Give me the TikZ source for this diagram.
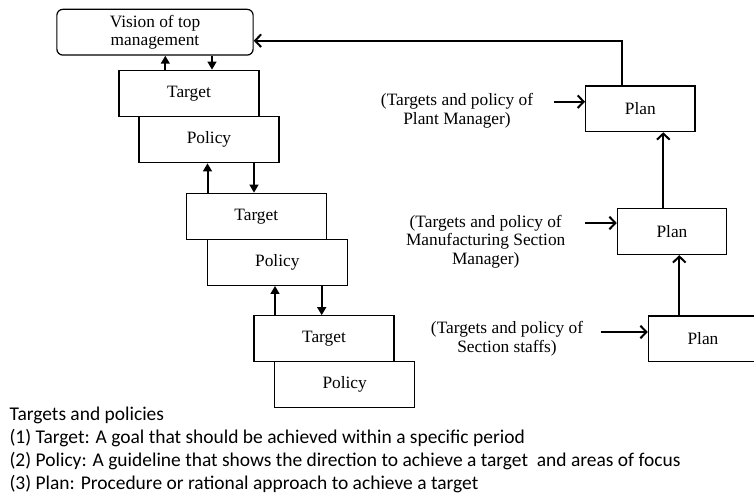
\documentclass[tikz,border=0pt]{standalone}
\usepackage{fontspec}
\setmainfont{Liberation Serif}
\newfontfamily\notefont{Carlito}
\usetikzlibrary{arrows.meta}

\begin{document}
\begin{tikzpicture}[x=0.75pt,y=-0.75pt,
  box/.style={draw, line width=0.9pt, minimum width=105pt, minimum height=34.5pt,
    inner sep=0pt, font=\fontsize{13}{14}\selectfont},
  planbox/.style={box, minimum width=82pt, minimum height=34.3pt},
  visionbox/.style={box, rounded corners=4.5pt, minimum width=147.2pt,
    minimum height=34.3pt, align=center},
  lab/.style={align=center, inner sep=0pt, font=\fontsize{13}{14}\selectfont},
  fillarrow/.style={line width=1.5pt, -{Triangle[length=6pt,width=6.5pt]}},
  barb/.style={line width=1.5pt, -{Straight Barb[length=4.5pt,width=9.5pt]}},
  note/.style={anchor=base west, inner sep=0pt, font=\notefont\fontsize{14.6}{17}\selectfont}
]
\useasboundingbox (0,0) rectangle (754,496);
\clip (0,0) rectangle (754,496);

% management hierarchy: targets and policies cascading down
\node[visionbox] (vis) at (155,32.2) {Vision of top\\management};
\node[box] (t1) at (189,93.3)   {Target};
\node[box] (p1) at (209,139.7)  {Policy};
\node[box] (t2) at (256.3,216.3) {Target};
\node[box] (p2) at (277.3,262.3) {Policy};
\node[box] (t3) at (324,338.8)  {Target};
\node[box] (p3) at (344.7,384.7) {Policy};

\draw[fillarrow] (165.3,0 |- t1.north) -- (165.3,0 |- vis.south);
\draw[fillarrow] (212,0 |- vis.south) -- (212,0 |- t1.north);
\draw[fillarrow] (207.5,0 |- t2.north) -- (207.5,0 |- p1.south);
\draw[fillarrow] (254,0 |- p1.south) -- (254,0 |- t2.north);
\draw[fillarrow] (275,0 |- t3.north) -- (275,0 |- p2.south);
\draw[fillarrow] (321.7,0 |- p2.south) -- (321.7,0 |- t3.north);

% plans at each level
\node[planbox] (plan1) at (640.3,108.8) {Plan};
\node[planbox] (plan2) at (672,231.7)   {Plan};
\node[planbox] (plan3) at (703,338.8)   {Plan};

\node[lab] (lab1) at (457,110.8) {(Targets and policy of\\Plant Manager)};
\node[lab] (lab2) at (485.7,241.5) {(Targets and policy of\\Manufacturing Section\\Manager)};
\node[lab] (lab3) at (507,339) {(Targets and policy of\\Section staffs)};

\coordinate (in1) at (554,101.7);
\coordinate (in2) at (585,223);
\coordinate (in3) at (600.7,332);
\draw[barb] (in1) -- (in1 -| plan1.west);
\draw[barb] (in2) -- (in2 -| plan2.west);
\draw[barb] (in3) -- (in3 -| plan3.west);

\draw[barb] (679.3,0 |- plan3.north) -- (679.3,0 |- plan2.south);
\draw[barb] (663.3,0 |- plan2.north) -- (663.3,0 |- plan1.south);
\coordinate (up) at (622,40.7);
\draw[barb] (up |- plan1.north) -- (up) -- (vis.east |- up);

% definitions
\node[note] (n0) at (9.3,420)   {Targets and policies};
\node[note] (n1) at (9.3,443)   {(1) Target: A goal that should be achieved within a specific period};
\node[note] (n2) at (9.3,466)   {(2) Policy: A guideline that shows the direction to achieve a target\ \ and areas of focus};
\node[note] (n3) at (9.3,489.3) {(3) Plan: Procedure or rational approach to achieve a target};
\end{tikzpicture}
\end{document}
